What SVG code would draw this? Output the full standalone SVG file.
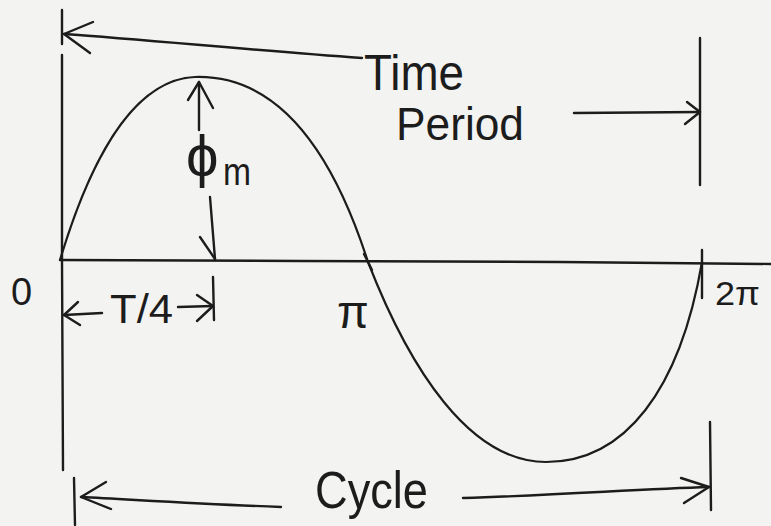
<svg xmlns="http://www.w3.org/2000/svg" width="771" height="526" viewBox="0 0 771 526">
<style>
.ln{fill:none;stroke:#1c1c1c;stroke-width:2.4;stroke-linecap:round;stroke-linejoin:round}
.wv{fill:none;stroke:#1c1c1c;stroke-width:2.2;stroke-linecap:round;stroke-linejoin:round}
.t{font-family:"Liberation Sans","DejaVu Sans",sans-serif;fill:#1c1c1c}
</style>
<rect x="0" y="0" width="771" height="526" fill="#f3f3f2"/>
<g id="axes">
<path class="ln" d="M60,260 L300,261 L560,262 L771,264"/>
<path class="ln" d="M62,55 L62,260 L63,470"/>
<path class="ln" d="M62,10 L62,44"/>
<path class="ln" d="M700,38 L700,185"/>
<path class="ln" d="M702,250 L702,298"/>
<path class="ln" d="M74,478 L75,525"/>
<path class="ln" d="M710,422 L711,510"/>
<path class="ln" d="M213,277 L214,320"/>
</g>
<g id="wave">
<path class="wv" d="M60,260 C78,200 120,80 195,77 C265,75 325,128 368,262 C410,370 470,462 546,462 C625,462 680,390 702,262"/>
<path class="ln" d="M364,254 L372,270"/>
</g>
<g id="connectors">
<path class="ln" d="M362,58 C250,50 150,40 64,34"/>
<polyline class="ln" points="93,22 64,34 90,53"/>
<path class="ln" d="M574,113 L700,112"/>
<polyline class="ln" points="687,102 700,112 685,124"/>
<path class="ln" d="M199,130 L199,82"/>
<polyline class="ln" points="188,100 199,82 213,108"/>
<path class="ln" d="M210,197 L215,259"/>
<polyline class="ln" points="200,237 215,259"/>
<path class="ln" d="M102,313 L64,315"/>
<polyline class="ln" points="78,302 64,315 80,325"/>
<path class="ln" d="M178,307 L213,306"/>
<polyline class="ln" points="197,295 213,306 197,321"/>
<path class="ln" d="M281,507 C200,504 140,500 81,497"/>
<polyline class="ln" points="106,482 81,497 111,509"/>
<path class="ln" d="M463,498 C560,495 640,489 709,487"/>
<polyline class="ln" points="681,478 709,487 684,503"/>
</g>
<g id="labels">
<text class="t" x="364" y="90" font-size="50" textLength="100" lengthAdjust="spacingAndGlyphs">Time</text>
<text class="t" x="396" y="140" font-size="46" textLength="128" lengthAdjust="spacingAndGlyphs">Period</text>
<text class="t" x="186" y="176" font-size="58">ϕ</text>
<text class="t" x="223" y="185" font-size="38" textLength="28" lengthAdjust="spacingAndGlyphs">m</text>
<text class="t" x="11" y="305" font-size="38">0</text>
<text class="t" x="110" y="323" font-size="40" textLength="63" lengthAdjust="spacingAndGlyphs">T/4</text>
<text class="t" x="337" y="328" font-size="46">π</text>
<text class="t" x="715" y="305" font-size="34" textLength="45" lengthAdjust="spacingAndGlyphs">2π</text>
<text class="t" x="315" y="508" font-size="52" textLength="113" lengthAdjust="spacingAndGlyphs">Cycle</text>
</g>
</svg>
